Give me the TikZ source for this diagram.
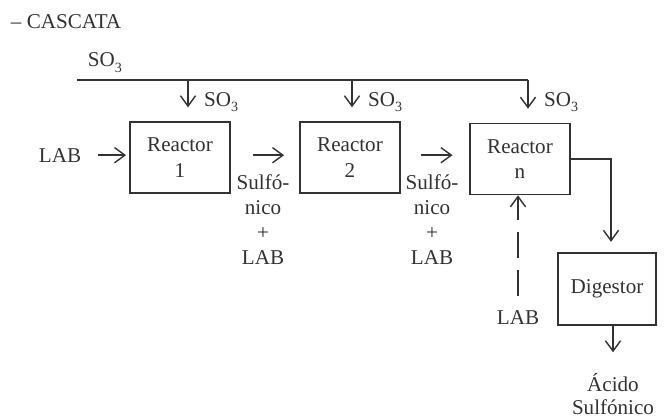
\documentclass[tikz,border=0pt]{standalone}
\usepackage{fontspec}
\setmainfont{Liberation Serif}
\usepackage{tikz}
\usetikzlibrary{positioning, arrows.meta, calc}
\definecolor{inkgray}{RGB}{50,50,50}
\newcommand{\sothree}{SO\raisebox{-0.6ex}{\fontsize{10}{12}\selectfont 3}}

\begin{document}
\begin{tikzpicture}[x=1cm, y=1cm,
    every node/.style={font=\fontsize{15}{18}\selectfont, text=inkgray},
    reactor/.style={draw=inkgray, line width=1pt, minimum width=2.5cm, minimum height=1.78cm, align=center, inner sep=0pt},
    flow/.style={draw=inkgray, line width=1pt, -{Straight Barb[length=2.6mm, width=3.8mm, line width=1pt]}},
    stream/.style={align=center, font=\fontsize{15}{17.8}\selectfont}]
      \useasboundingbox (0,0) rectangle (16.625,-10.425);
      % Title
      \node[anchor=west] (title) at (0.15,-0.55) {-- CASCATA};
      % SO3 feed line
      \node (so3) at (2.62,-1.57) {\sothree};
      \coordinate (feedL) at (1.925,-2.0);
      \coordinate (feedR) at (13.2,-2.0);
      \draw[inkgray, line width=1pt] (feedL) -- (feedR);
      % Reactors and digestor
      \node[reactor] (r1) at (4.5,-3.94) {Reactor\\1};
      \node[reactor] (r2) at (8.75,-3.94) {Reactor\\2};
      \node[reactor] (rn) at (13.0,-3.975) {Reactor\\n};
      \node[reactor, minimum width=2.45cm, minimum height=1.8cm] (dig) at (15.175,-7.225) {Digestor};
      % SO3 inlets
      \coordinate (in1) at (4.7,-2.0);
      \coordinate (in2) at (8.8,-2.0);
      \coordinate (inn) at (13.2,-2.0);
      \draw[flow, shorten >=0.35cm] (in1) -- (in1 |- r1.north);
      \draw[flow, shorten >=0.35cm] (in2) -- (in2 |- r2.north);
      \draw[flow, shorten >=0.35cm] (inn) -- (inn |- rn.north);
      \node[anchor=west] (so31) at (4.98,-2.55) {\sothree};
      \node[anchor=west] (so32) at (9.08,-2.55) {\sothree};
      \node[anchor=west] (so3n) at (13.48,-2.55) {\sothree};
      % LAB feed
      \node (lab1) at (1.5,-3.88) {LAB};
      \draw[flow, shorten <=0.3cm, shorten >=0.08cm] (lab1.east) -- (lab1.east -| r1.west);
      % Intermediate streams
      \draw[flow, shorten <=0.55cm, shorten >=0.38cm] (r1.east |- lab1) -- (r2.west |- lab1);
      \draw[flow, shorten <=0.5cm, shorten >=0.42cm] (r2.east |- lab1) -- (rn.west |- lab1);
      \node[stream] (s12) at (6.575,-5.49) {Sulfó-\\nico\\+\\LAB};
      \node[stream] (s2n) at (10.8,-5.49) {Sulfó-\\nico\\+\\LAB};
      % LAB to reactor n
      \node (labn) at (12.95,-7.93) {LAB};
      \draw[flow, dash pattern=on 0.66cm off 0.3cm, shorten <=0.22cm] (labn.north) -- (labn.north |- rn.south);
      % Output to digestor
      \coordinate (dn) at (15.275,-6.325);
      \draw[flow, line width=0.8pt, shorten >=0.28cm] (rn.east) -| (dn);
      \node[stream, font=\fontsize{15}{16.5}\selectfont] (acid) at (15.325,-9.85) {Ácido\\Sulfónico};
      \draw[flow, shorten >=0.4cm] (dig.south -| acid) -- (acid.north);
\end{tikzpicture}
\end{document}
